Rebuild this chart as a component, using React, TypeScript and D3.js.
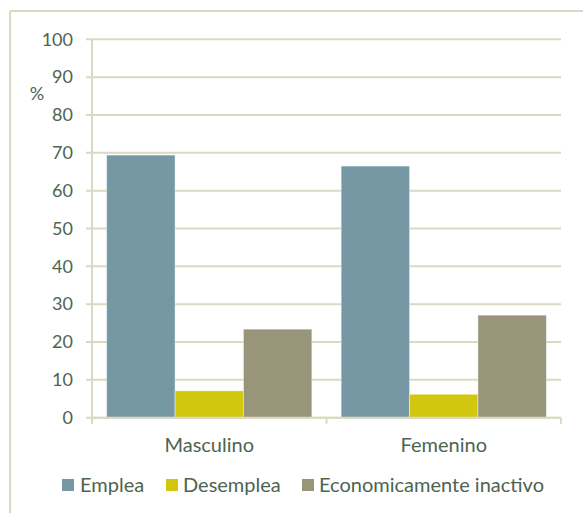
import React from "react";
import * as d3 from "d3";

const categories = ["Masculino", "Femenino"];
const seriesNames = ["Emplea", "Desemplea", "Economicamente inactivo"];
const emplea = [69.4, 66.5];
const desemplea = [7.1, 6.2];
const inactivo = [23.4, 27.1];
const yTicks = [0, 10, 20, 30, 40, 50, 60, 70, 80, 90, 100];

const colors = ["#7698A5", "#D1C70F", "#98957B"];
const gridColor = "#DAD9C1";
const textColor = "#4D6450";
const font = "Lato, 'Open Sans', sans-serif";

export default function App() {
  const W = 583, H = 513;
  const plotLeft = 92, plotRight = 561, plotTop = 39.3, plotBottom = 417.7;
  const y = d3.scaleLinear().domain([0, 100]).range([plotBottom, plotTop]);
  const x = d3.scaleBand<string>().domain(categories).range([plotLeft, plotRight]).padding(0);
  const bw = x.bandwidth();
  const inner = d3.scaleBand<string>().domain(seriesNames).range([bw * 0.0625, bw * 0.9375]).padding(0);
  const values = [emplea, desemplea, inactivo];

  const legendItems = [
    { name: seriesNames[0], sx: 62, tx: 80 },
    { name: seriesNames[1], sx: 166, tx: 183 },
    { name: seriesNames[2], sx: 302, tx: 319 },
  ];

  return (
    <div style={{ position: "absolute", left: 0, top: 0 }}>
      <svg width={W} height={H} style={{ display: "block" }}>
        <rect x={0} y={0} width={W} height={H} fill="#fff" />
        <line x1={10} y1={11} x2={W} y2={11} stroke={gridColor} strokeWidth={2} />
        <line x1={10} y1={11} x2={10} y2={H} stroke={gridColor} strokeWidth={2} />
        {yTicks.map((t) => (
          <g key={t}>
            <line x1={86} x2={plotRight} y1={y(t)} y2={y(t)} stroke={gridColor} strokeWidth={2} />
            <text x={73} y={y(t)} dy="0.35em" textAnchor="end" fill={textColor}
              style={{ font: `18px ${font}` }}>{t}</text>
          </g>
        ))}
        <line x1={plotLeft} x2={plotLeft} y1={plotTop} y2={plotBottom + 6} stroke={gridColor} strokeWidth={2} />
        {[plotLeft, plotLeft + bw, plotRight].map((px, i) => (
          <line key={i} x1={px} x2={px} y1={plotBottom} y2={plotBottom + 6} stroke={gridColor} strokeWidth={2} />
        ))}
        <text x={37} y={100} textAnchor="middle" fill={textColor} style={{ font: `18px ${font}` }}>%</text>
        {values.map((vals, si) =>
          categories.map((c, ci) => {
            const bx = (x(c) as number) + (inner(seriesNames[si]) as number);
            return (
              <rect key={`${si}-${ci}`} x={bx} y={y(vals[ci])} width={inner.bandwidth()}
                height={y(0) - y(vals[ci])} fill={colors[si]} stroke="#ffffff" strokeOpacity={0.5} strokeWidth={0.8} />
            );
          })
        )}
        <line x1={plotLeft} x2={plotRight} y1={plotBottom} y2={plotBottom} stroke={gridColor} strokeWidth={2} />
        {categories.map((c) => (
          <text key={c} x={(x(c) as number) + bw / 2} y={452} textAnchor="middle" fill={textColor}
            style={{ font: `20px ${font}` }}>{c}</text>
        ))}
        {legendItems.map((l, i) => (
          <g key={l.name}>
            <rect x={l.sx} y={479} width={12} height={12} fill={colors[i]} />
            <text x={l.tx} y={492} fill={textColor} style={{ font: `20px ${font}` }}>{l.name}</text>
          </g>
        ))}
      </svg>
    </div>
  );
}
